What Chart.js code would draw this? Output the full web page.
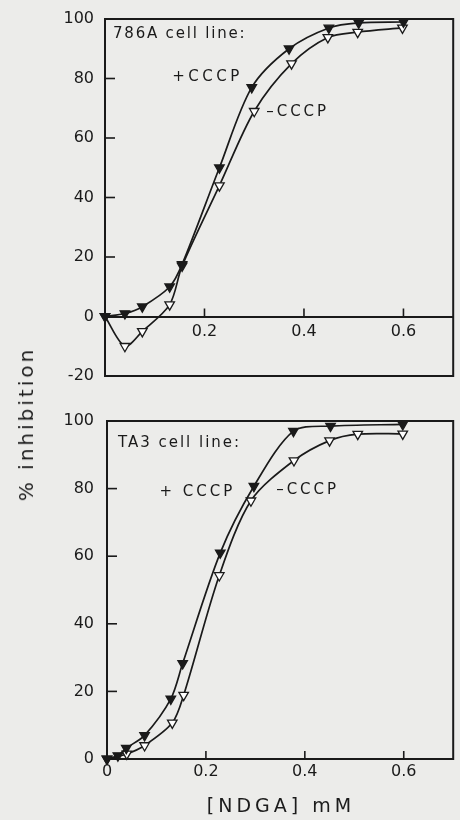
<!DOCTYPE html>
<html><head><meta charset="utf-8">
<script src="https://cdn.jsdelivr.net/npm/chart.js@4.4.1/dist/chart.umd.min.js"></script>
<style>
html,body{margin:0;padding:0;background:#ececea;width:460px;height:820px;overflow:hidden;}
canvas{position:absolute;left:0;}
#c1{top:0;}
#c2{top:400px;}
.lbl{position:absolute;font-family:"DejaVu Sans";color:#1c1c1c;white-space:nowrap;}
#ytitle{left:26px;top:424px;transform:translate(-50%,-50%) rotate(-90deg);font-size:20px;letter-spacing:3px;}
#xtitle{left:281px;top:805px;transform:translate(-50%,-50%);font-size:19px;letter-spacing:4px;}
</style></head><body>
<canvas id="c1" width="460" height="400"></canvas>
<canvas id="c2" width="460" height="420"></canvas>
<div class="lbl" id="ytitle">% inhibition</div>
<div class="lbl" id="xtitle">[NDGA] mM</div>
<script>
// ---- data ----
const xTicks = [0, 0.2, 0.4, 0.6];
const yTicksTop = [-20, 0, 20, 40, 60, 80, 100];
const yTicksBot = [0, 20, 40, 60, 80, 100];

// 786A cell line
const topPlusX  = [0, 0.04, 0.075, 0.13, 0.155, 0.23, 0.295, 0.37, 0.45, 0.51, 0.6];
const topPlusY  = [0, 1, 3.3, 10, 17.5, 50, 77, 90, 97, 98.7, 99];
const topMinusX = [0, 0.04, 0.075, 0.13, 0.155, 0.23, 0.3, 0.375, 0.448, 0.508, 0.598];
const topMinusY = [0, -10, -5, 4, 17, 44, 69, 85, 93.8, 95.6, 97];

// TA3 cell line
const botPlusX  = [0, 0.022, 0.039, 0.076, 0.129, 0.153, 0.229, 0.297, 0.377, 0.452, 0.598];
const botPlusY  = [0, 1, 3.2, 7, 17.8, 28.3, 61, 80.7, 97, 98.5, 99];
const botMinusX = [0, 0.04, 0.076, 0.132, 0.155, 0.227, 0.291, 0.378, 0.45, 0.507, 0.598];
const botMinusY = [0, 1.5, 4, 10.7, 18.9, 54.3, 76.4, 88.3, 94.2, 96.1, 96.2];

const INK = '#1a1a1a';

const panelPlugin = {
  id: 'panel',
  beforeDatasetsDraw(chart, args, opts) {
    const {ctx, chartArea: a, scales: {x, y}} = chart;
    ctx.save();
    ctx.strokeStyle = INK;
    ctx.lineWidth = 2;
    ctx.strokeRect(a.left, a.top, a.right - a.left, a.bottom - a.top);
    ctx.lineWidth = 1.6;
    y.ticks.forEach(t => {
      const py = y.getPixelForValue(t.value);
      ctx.beginPath(); ctx.moveTo(a.left, py); ctx.lineTo(a.left + opts.yTickLen, py); ctx.stroke();
    });
    const base = y.getPixelForValue(0);
    x.ticks.forEach(t => {
      if (t.value === 0) return;
      const px = x.getPixelForValue(t.value);
      ctx.beginPath(); ctx.moveTo(px, base); ctx.lineTo(px, base - opts.xTickLen); ctx.stroke();
    });
    ctx.restore();
  },
  afterDraw(chart, args, opts) {
    const {ctx, scales: {x, y}} = chart;
    ctx.save();
    ctx.fillStyle = INK;
    ctx.textBaseline = 'middle';
    ctx.textAlign = 'left';
    (opts.notes || []).forEach(n => {
      ctx.font = n.font;
      ctx.letterSpacing = n.spacing;
      ctx.fillText(n.text, x.getPixelForValue(n.x), y.getPixelForValue(n.y));
    });
    ctx.restore();
  }
};

function series(xs, ys) { return xs.map((v, i) => ({x: v, y: ys[i]})); }

function makeChart(id, cfg) {
  const tickFont = {family: 'DejaVu Sans', size: 16, lineHeight: 1};
  const common = {borderColor: INK, borderWidth: 1.7, tension: 0.3,
    pointStyle: 'triangle', pointRotation: 180, pointRadius: 5.5, pointBorderWidth: 1.3,
    pointBorderColor: INK, clip: false};
  return new Chart(document.getElementById(id), {
    type: 'line',
    data: {datasets: [
      Object.assign({label: '+CCCP', data: series(cfg.px, cfg.py), pointBackgroundColor: INK}, common),
      Object.assign({label: '-CCCP', data: series(cfg.mx, cfg.my), pointBackgroundColor: '#ffffff'}, common)
    ]},
    options: {
      responsive: false, animation: false, events: [],
      layout: {padding: cfg.padding},
      plugins: {legend: {display: false}, tooltip: {enabled: false},
        panel: {yTickLen: 10, xTickLen: 8, notes: cfg.notes}},
      scales: {
        x: {type: 'linear', min: 0, max: 0.7, position: cfg.xPos,
            afterBuildTicks: s => { s.ticks = xTicks.map(v => ({value: v})); },
            afterFit: cfg.xFit,
            grid: {display: false, drawTicks: false},
            border: {display: true, color: INK, width: 2},
            ticks: {padding: cfg.xPad, font: tickFont, color: INK, maxRotation: 0,
                    callback: v => (v === 0 && !cfg.showX0) ? '' : String(v)}},
        y: {type: 'linear', min: cfg.yTicks[0], max: cfg.yTicks[cfg.yTicks.length - 1],
            afterBuildTicks: s => { s.ticks = cfg.yTicks.map(v => ({value: v})); },
            afterFit: s => { s.width = cfg.yWidth; },
            grid: {display: false, drawTicks: false},
            border: {display: true, color: INK, width: 2},
            ticks: {padding: cfg.yPad, font: tickFont, color: INK, callback: v => String(v)}}
      }
    },
    plugins: [panelPlugin]
  });
}

makeChart('c1', {
  px: topPlusX, py: topPlusY, mx: topMinusX, my: topMinusY,
  yTicks: yTicksTop, xPos: {y: 0}, xFit: s => { s.height = 0; }, showX0: false,
  padding: {top: 12, right: 3, bottom: 24, left: 0}, yWidth: 105, yPad: 11, xPad: 7,
  notes: [
    {text: '786A cell line:', x: 0.016, y: 95, font: '15px "DejaVu Sans"', spacing: '1.8px'},
    {text: '+CCCP', x: 0.135, y: 80.4, font: '15px "DejaVu Sans"', spacing: '3.5px'},
    {text: '\u2013CCCP', x: 0.324, y: 68.6, font: '15px "DejaVu Sans"', spacing: '3px'}
  ]
});

makeChart('c2', {
  px: botPlusX, py: botPlusY, mx: botMinusX, my: botMinusY,
  yTicks: yTicksBot, xPos: 'bottom', xFit: s => { s.height = 61; }, showX0: true,
  padding: {top: 9, right: 3, bottom: 0, left: 0}, yWidth: 107, yPad: 13, xPad: 5,
  notes: [
    {text: 'TA3 cell line:', x: 0.022, y: 93.4, font: '15px "DejaVu Sans"', spacing: '2px'},
    {text: '+ CCCP', x: 0.106, y: 78.9, font: '15px "DejaVu Sans"', spacing: '3px'},
    {text: '\u2013CCCP', x: 0.342, y: 79.7, font: '15px "DejaVu Sans"', spacing: '3px'}
  ]
});
</script>
</body></html>
